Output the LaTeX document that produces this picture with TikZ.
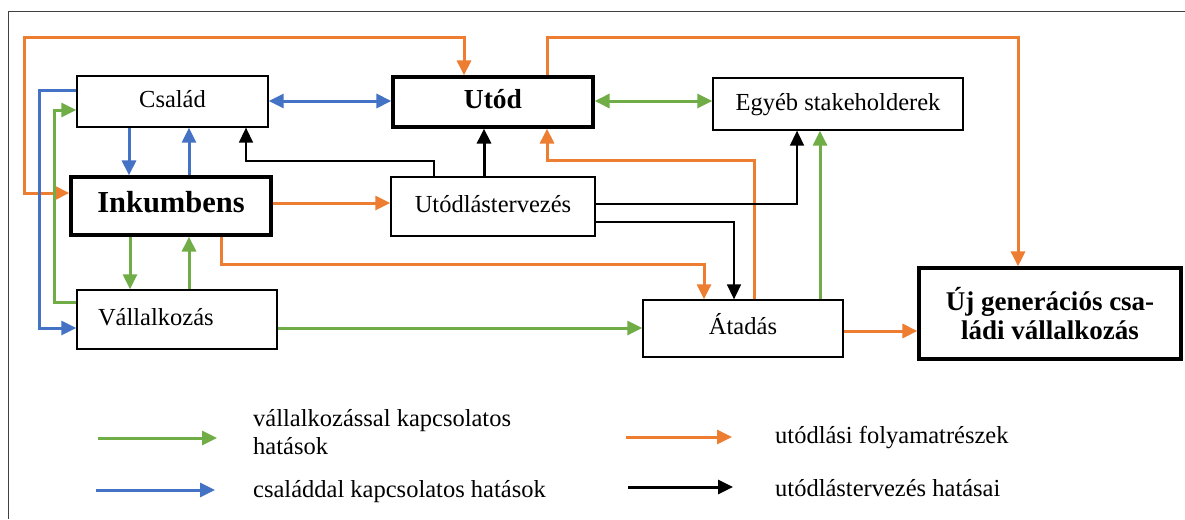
\documentclass[tikz,border=0pt]{standalone}
\usepackage{fontspec}
\setmainfont{Liberation Serif}
\usetikzlibrary{arrows.meta}
\definecolor{corange}{HTML}{ED7D31}
\definecolor{cblue}{HTML}{4472C4}
\definecolor{cgreen}{HTML}{70AD47}
\begin{document}
\begin{tikzpicture}[x=1pt,y=-1pt,
  >={Triangle[length=15pt,width=14pt]},
  box/.style={draw, line width=1.3pt, inner sep=0pt, font=\fontsize{24.5}{28}\selectfont, text height=17pt, text depth=5pt},
  thickbox/.style={box, line width=3.2pt, font=\fontsize{27.5}{30}\selectfont\bfseries},
  ujbox/.style={draw, line width=3.2pt, inner sep=0pt, align=center, font=\fontsize{27}{29.5}\selectfont\bfseries},
  oneway/.style={->},
  twoway/.style={<->},
  og/.style={draw=corange, line width=3pt},
  bl/.style={draw=cblue, line width=3pt},
  gr/.style={draw=cgreen, line width=3pt},
  bk/.style={draw=black, line width=1.6pt},
  legtext/.style={anchor=base west, font=\fontsize{24.5}{28}\selectfont, inner sep=0pt}
]
\useasboundingbox (0,0) rectangle (1185,519);
\draw[line width=1pt, draw=black!75] (1185,12) -- (8,12) -- (8,519);

% boxes
\node[box, minimum width=191pt, minimum height=51pt] (csalad) at (172.5,101.5) {Család};
\node[thickbox, minimum width=200pt, minimum height=50pt] (utod) at (493,102) {Utód};
\node[box, minimum width=250pt, minimum height=52pt] (egyeb) at (838,104) {Egyéb stakeholderek};
\node[thickbox, font=\fontsize{30.5}{32}\selectfont\bfseries, minimum width=200pt, minimum height=58pt] (inkumbens) at (171,206) {Inkumbens};
\node[box, minimum width=204pt, minimum height=59pt] (utodlas) at (493,206.5) {Utódlástervezés};
\node[box, minimum width=200pt, minimum height=59pt, text width=158pt, inner xsep=21pt, align=left] (vallalkozas) at (177,319.5) {Vállalkozás};
\node[box, minimum width=200pt, minimum height=57pt] (atadas) at (743,328.5) {Átadás};
\node[ujbox, minimum width=262pt, minimum height=91pt] (uj) at (1050,313.5) {Új generációs csa-\\ládi vállalkozás};

% orange
\draw[og, twoway] (inkumbens.west |- 0,193) -| (24,38) -| (utod.north -| 464,0);
\draw[og, oneway] (utod.north -| 547,0) |- (1018,38) -- (uj.north -| 1018,0);
\draw[og, oneway] (atadas.north -| 754,0) |- (547,160) -- (utod.south -| 547,0);
\draw[og, oneway] (inkumbens.east |- 0,203) -- (utodlas.west |- 0,203);
\draw[og, oneway] (inkumbens.south -| 221,0) |- (704,264) -- (atadas.north -| 704,0);
\draw[og, oneway] (atadas.east |- 0,331) -- (uj.west |- 0,331);

% blue
\draw[bl, twoway] (csalad.east |- 0,101) -- (utod.west |- 0,101);
\draw[bl, oneway] (csalad.west |- 0,90) -| (39,328) -- (vallalkozas.west |- 0,328);
\draw[bl, oneway] (csalad.south -| 129,0) -- (inkumbens.north -| 129,0);
\draw[bl, oneway] (inkumbens.north -| 189,0) -- (csalad.south -| 189,0);

% green
\draw[gr, oneway] (vallalkozas.west |- 0,302) -| (54,110) -- (csalad.west |- 0,110);
\draw[gr, oneway] (inkumbens.south -| 130,0) -- (vallalkozas.north -| 130,0);
\draw[gr, oneway] (vallalkozas.north -| 189,0) -- (inkumbens.south -| 189,0);
\draw[gr, oneway] (vallalkozas.east |- 0,328) -- (atadas.west |- 0,328);
\draw[gr, twoway] (utod.east |- 0,101) -- (egyeb.west |- 0,101);
\draw[gr, oneway] (atadas.north -| 820,0) -- (egyeb.south -| 820,0);

% black
\draw[bk, oneway] (utodlas.north -| 434,0) |- (246,161) -- (csalad.south -| 246,0);
\draw[bk, line width=3pt, oneway] (utodlas.north -| 484,0) -- (utod.south -| 484,0);
\draw[bk, oneway] (utodlas.east |- 0,204) -| (egyeb.south -| 797,0);
\draw[bk, oneway] (utodlas.east |- 0,222) -| (atadas.north -| 734,0);

% legend
\coordinate (lga) at (98,438);  \coordinate (lgb) at (217,438);
\coordinate (lba) at (96,490);  \coordinate (lbb) at (215,490);
\coordinate (loa) at (626,437); \coordinate (lob) at (732,437);
\coordinate (lka) at (628,487); \coordinate (lkb) at (733,487);
\draw[gr, oneway] (lga) -- (lgb);
\draw[bl, oneway] (lba) -- (lbb);
\draw[og, oneway] (loa) -- (lob);
\draw[bk, line width=3pt, oneway] (lka) -- (lkb);
\node[legtext, align=left] (lt1) at (253,454) {vállalkozással kapcsolatos\\hatások};
\node[legtext] (lt2) at (253,497) {családdal kapcsolatos hatások};
\node[legtext] (lt3) at (775,443) {utódlási folyamatrészek};
\node[legtext] (lt4) at (775,496) {utódlástervezés hatásai};
\end{tikzpicture}
\end{document}
